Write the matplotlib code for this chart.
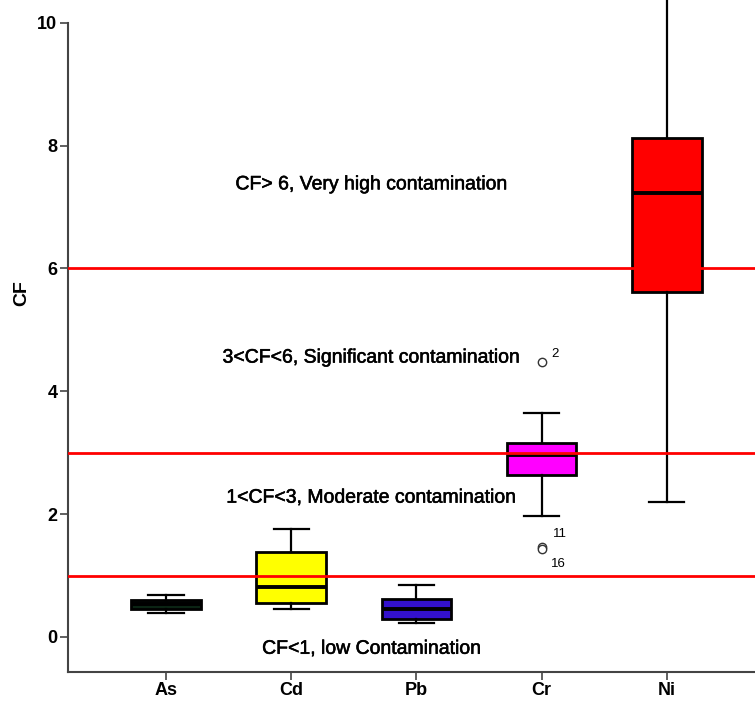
import numpy as np
import matplotlib
matplotlib.use("Agg")
import matplotlib.pyplot as plt
import matplotlib.patheffects as pe

plt.rcParams['font.family'] = ['Liberation Sans', 'DejaVu Sans']

# box plot summary values
metals = ["As", "Cd", "Pb", "Cr", "Ni"]
whis_lo = [0.39, 0.46, 0.23, 1.97, 2.20]
q1 = [0.45, 0.56, 0.29, 2.63, 5.62]
med = [0.53, 0.82, 0.46, 2.96, 7.22]
q3 = [0.60, 1.38, 0.61, 3.16, 8.13]
whis_hi = [0.68, 1.75, 0.85, 3.64, 10.6]
box_colors = ["#0b2414", "#ffff00", "#3311cc", "#ff00ff", "#ff0000"]

# Cr outliers and their case numbers
cr_out = [4.47, 1.47, 1.43]
cr_out_ids = ["2", "11", "16"]

# contamination class limits and labels
limits = [1, 3, 6]
classes = ["CF<1, low Contamination", "1<CF<3, Moderate contamination",
           "3<CF<6, Significant contamination", "CF> 6, Very high contamination"]
class_y = [-0.2, 2.26, 4.54, 7.36]
yticks = [0, 2, 4, 6, 8, 10]

pos = np.arange(1, len(metals) + 1)

fig = plt.figure(figsize=(7.55, 7.01), dpi=100)
ax = fig.add_axes([0.0897, 0.0414, 0.9103, 0.9586])

stats = []
for i, m in enumerate(metals):
    stats.append({"label": m, "whislo": whis_lo[i], "q1": q1[i], "med": med[i],
                  "q3": q3[i], "whishi": whis_hi[i], "fliers": []})

bp = ax.bxp(stats, positions=pos, widths=0.555, patch_artist=True,
            showfliers=False,
            boxprops=dict(linewidth=2, edgecolor="black"),
            medianprops=dict(color="black", linewidth=2.8),
            whiskerprops=dict(color="black", linewidth=1.6),
            capprops=dict(color="black", linewidth=1.6),
            capwidths=0.28)
for patch, c in zip(bp["boxes"], box_colors):
    patch.set_facecolor(c)

for lim in limits:
    ax.axhline(lim, color="#ff0000", linewidth=2, zorder=5)

# Cr outliers
cr_x = pos[metals.index("Cr")]
ax.plot([cr_x] * len(cr_out), cr_out, "o", mfc="white", mec="#333333",
        ms=6, mew=1, zorder=6)
ax.annotate(cr_out_ids[0], (cr_x, cr_out[0]), xytext=(7, 4),
            textcoords="offset points", fontsize=9.5)
ax.annotate(cr_out_ids[1], (cr_x, cr_out[1]), xytext=(8, 7),
            textcoords="offset points", fontsize=9.5)
ax.annotate(cr_out_ids[2], (cr_x, cr_out[2]), xytext=(7, -13),
            textcoords="offset points", fontsize=9.5)

thick = [pe.withStroke(linewidth=0.4, foreground="black")]
for txt, yy in zip(classes, class_y):
    ax.text(2.645, yy, txt, ha="center", va="center", fontsize=14, zorder=7,
            path_effects=thick)

ax.set_xlim(0.215, 5.704)
ax.set_ylim(-0.57, 10.37)
tick_font = {"family": "Liberation Sans", "weight": "bold", "size": 13}
ax.set_yticks(yticks)
ax.set_yticklabels([str(t) for t in yticks], fontdict=tick_font)
ax.set_xticks(pos)
ax.set_xticklabels(metals, fontdict=tick_font)
ax.tick_params(length=5.5, width=1.2, color="#444444", pad=2)

ax.spines["top"].set_visible(False)
ax.spines["right"].set_visible(False)
ax.spines["left"].set_color("#444444")
ax.spines["bottom"].set_color("#444444")
ax.spines["left"].set_linewidth(1.5)
ax.spines["bottom"].set_linewidth(1.5)
ax.spines["left"].set_bounds(-0.57, 10)

fig.text(21.7 / 755, 1 - 293 / 701, "CF", rotation=90, ha="center",
         va="center", family="Liberation Sans", fontsize=14, fontweight="bold")

fig.savefig("out.png", dpi=100)
